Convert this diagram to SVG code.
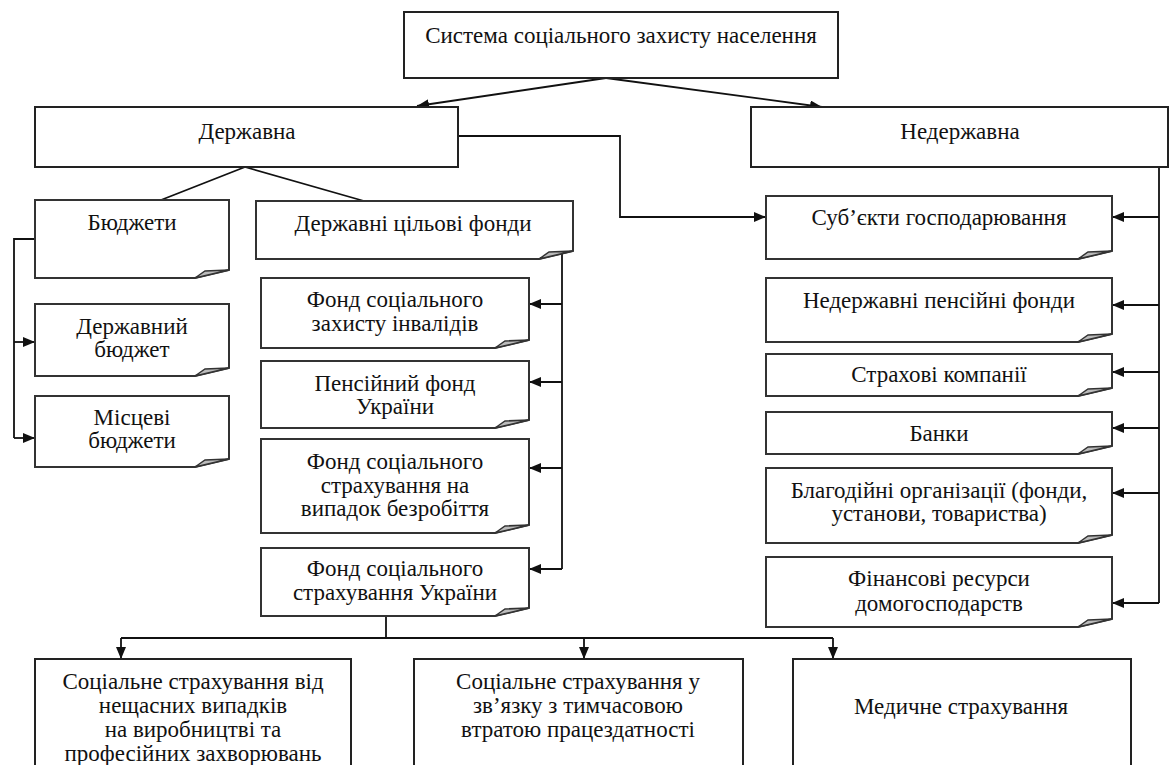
<svg xmlns="http://www.w3.org/2000/svg" width="1172" height="765" viewBox="0 0 1172 765">
<style>
.box{fill:#fff;stroke:#222;stroke-width:2}
.note{fill:#fff;stroke:#333;stroke-width:2;stroke-linejoin:miter}
.fold{fill:#bbb;stroke:#333;stroke-width:1.5}
.t{font-family:"Liberation Serif","Times New Roman",serif;font-size:23px;fill:#111;text-anchor:middle}
.c{fill:none;stroke:#111;stroke-width:1.8}
</style>
<defs>
<marker id="ah" viewBox="0 0 12 10" refX="12" refY="5" markerWidth="12" markerHeight="10" markerUnits="userSpaceOnUse" orient="auto"><path d="M0,0 L12,5 L0,10 Z" fill="#111"/></marker>
</defs>
<g id="connectors">
<path class="c" d="M606,78 L417,106" marker-end="url(#ah)"/>
<path class="c" d="M606,78 L822,107" marker-end="url(#ah)"/>
<path class="c" d="M458,136 H620 V217 H766" marker-end="url(#ah)"/>
<path class="c" d="M245,167 L161,200 M245,167 L364,201"/>
<path class="c" d="M35,239 H14 V438"/>
<path class="c" d="M14,342 H35" marker-end="url(#ah)"/>
<path class="c" d="M14,438 H35" marker-end="url(#ah)"/>
<path class="c" d="M562,253 V569"/>
<path class="c" d="M562,304 H529" marker-end="url(#ah)"/>
<path class="c" d="M562,382 H529" marker-end="url(#ah)"/>
<path class="c" d="M562,468 H529" marker-end="url(#ah)"/>
<path class="c" d="M562,569 H529" marker-end="url(#ah)"/>
<path class="c" d="M1159,167 V603"/>
<path class="c" d="M1159,217 H1112" marker-end="url(#ah)"/>
<path class="c" d="M1159,305 H1112" marker-end="url(#ah)"/>
<path class="c" d="M1159,372 H1112" marker-end="url(#ah)"/>
<path class="c" d="M1159,428 H1112" marker-end="url(#ah)"/>
<path class="c" d="M1159,493 H1112" marker-end="url(#ah)"/>
<path class="c" d="M1159,603 H1112" marker-end="url(#ah)"/>
<path class="c" d="M386,616 V638 M121,638 H833"/>
<path class="c" d="M121,638 V659" marker-end="url(#ah)"/>
<path class="c" d="M584,638 V659" marker-end="url(#ah)"/>
<path class="c" d="M833,638 V659" marker-end="url(#ah)"/>
</g>
<g id="n-root"><rect class="box" x="404" y="12" width="434" height="66"/><text class="t" x="621" y="43">Система соціального захисту населення</text></g>
<g id="n-state"><rect class="box" x="35" y="107" width="423" height="60"/><text class="t" x="247" y="139">Державна</text></g>
<g id="n-nonstate"><rect class="box" x="751" y="107" width="417" height="60"/><text class="t" x="960" y="139">Недержавна</text></g>
<g id="n-budgets"><path class="note" d="M35,200 H229 V270 L195,278 H35 Z"/><path class="fold" d="M195,278 L205,271 L229,270 Z"/><text class="t" x="132" y="230">Бюджети</text></g>
<g id="n-statebudget"><path class="note" d="M35,304 H229 V368 L195,376 H35 Z"/><path class="fold" d="M195,376 L205,369 L229,368 Z"/><text class="t" x="132" y="334">Державний</text><text class="t" x="132" y="357">бюджет</text></g>
<g id="n-localbudget"><path class="note" d="M35,396 H229 V459 L195,467 H35 Z"/><path class="fold" d="M195,467 L205,460 L229,459 Z"/><text class="t" x="132" y="425">Місцеві</text><text class="t" x="132" y="448">бюджети</text></g>
<g id="n-funds"><path class="note" d="M256,201 H573 V251 L539,259 H256 Z"/><path class="fold" d="M539,259 L549,252 L573,251 Z"/><text class="t" x="413" y="231">Державні цільові фонди</text></g>
<g id="n-f1"><path class="note" d="M261,278 H529 V340 L495,348 H261 Z"/><path class="fold" d="M495,348 L505,341 L529,340 Z"/><text class="t" x="395" y="307">Фонд соціального</text><text class="t" x="395" y="331">захисту інвалідів</text></g>
<g id="n-f2"><path class="note" d="M261,361 H529 V420 L495,428 H261 Z"/><path class="fold" d="M495,428 L505,421 L529,420 Z"/><text class="t" x="395" y="391">Пенсійний фонд</text><text class="t" x="395" y="414">України</text></g>
<g id="n-f3"><path class="note" d="M261,439 H529 V525 L495,533 H261 Z"/><path class="fold" d="M495,533 L505,526 L529,525 Z"/><text class="t" x="395" y="469">Фонд соціального</text><text class="t" x="395" y="493">страхування на</text><text class="t" x="395" y="516">випадок безробіття</text></g>
<g id="n-f4"><path class="note" d="M261,548 H529 V608 L495,616 H261 Z"/><path class="fold" d="M495,616 L505,609 L529,608 Z"/><text class="t" x="395" y="576">Фонд соціального</text><text class="t" x="395" y="600">страхування України</text></g>
<g id="n-r1"><path class="note" d="M766,196 H1112 V251 L1078,259 H766 Z"/><path class="fold" d="M1078,259 L1088,252 L1112,251 Z"/><text class="t" x="939" y="225">Суб’єкти господарювання</text></g>
<g id="n-r2"><path class="note" d="M766,278 H1112 V334 L1078,342 H766 Z"/><path class="fold" d="M1078,342 L1088,335 L1112,334 Z"/><text class="t" x="939" y="308">Недержавні пенсійні фонди</text></g>
<g id="n-r3"><path class="note" d="M766,354 H1112 V388 L1078,396 H766 Z"/><path class="fold" d="M1078,396 L1088,389 L1112,388 Z"/><text class="t" x="939" y="382">Страхові компанії</text></g>
<g id="n-r4"><path class="note" d="M766,412 H1112 V446 L1078,454 H766 Z"/><path class="fold" d="M1078,454 L1088,447 L1112,446 Z"/><text class="t" x="939" y="441">Банки</text></g>
<g id="n-r5"><path class="note" d="M766,468 H1112 V535 L1078,543 H766 Z"/><path class="fold" d="M1078,543 L1088,536 L1112,535 Z"/><text class="t" x="939" y="498">Благодійні організації (фонди,</text><text class="t" x="939" y="521">установи, товариства)</text></g>
<g id="n-r6"><path class="note" d="M766,557 H1112 V619 L1078,627 H766 Z"/><path class="fold" d="M1078,627 L1088,620 L1112,619 Z"/><text class="t" x="939" y="586">Фінансові ресурси</text><text class="t" x="939" y="611">домогосподарств</text></g>
<g id="n-b1"><rect class="box" x="35" y="659" width="316" height="120"/><text class="t" x="193" y="689">Соціальне страхування від</text><text class="t" x="193" y="713">нещасних випадків</text><text class="t" x="193" y="737">на виробництві та</text><text class="t" x="193" y="761">професійних захворювань</text></g>
<g id="n-b2"><rect class="box" x="414" y="659" width="329" height="120"/><text class="t" x="578" y="689">Соціальне страхування у</text><text class="t" x="578" y="713">зв’язку з тимчасовою</text><text class="t" x="578" y="737">втратою працездатності</text></g>
<g id="n-b3"><rect class="box" x="793" y="659" width="338" height="120"/><text class="t" x="961" y="714">Медичне страхування</text></g>
</svg>
